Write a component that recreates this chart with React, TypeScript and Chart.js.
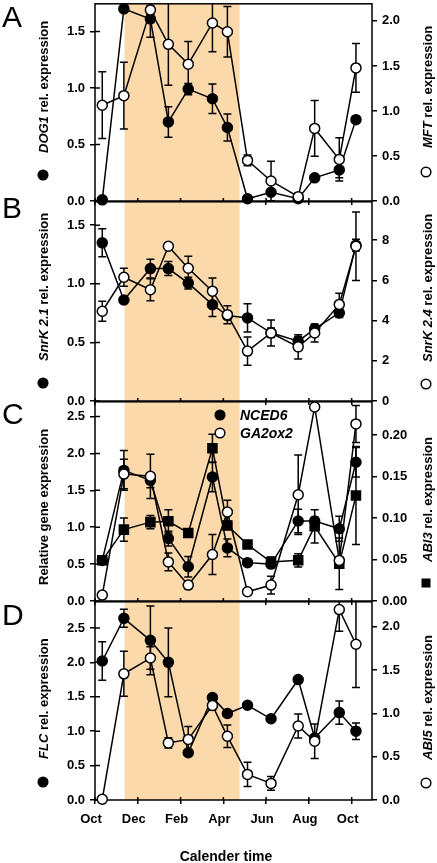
import React, { useEffect, useRef } from 'react';
import { Chart, registerables } from 'chart.js';

Chart.register(...registerables);

// ---------------- DATA ----------------
const monthTickValues = [0, 2, 4, 6, 8, 10, 12];
const monthTickLabels = ['Oct', 'Dec', 'Feb', 'Apr', 'Jun', 'Aug', 'Oct'];
const sampleMonths = [0.34, 1.35, 2.59, 3.43, 4.36, 5.49, 6.19, 7.13, 8.23, 9.5, 10.27, 11.42, 12.2];
const winterStart = 1.38;
const winterEnd = 6.76;

// Panel A
const dog1 = [0.01, 1.7, 1.61, 0.7, 0.99, 0.905, 0.65, 0.02, 0.077, 0.02, 0.205, 0.275, 0.72];
const dog1Err = [0, 0.03, 0.16, 0.135, 0.05, 0.13, 0.12, 0, 0.02, 0, 0.02, 0.07, 0.03];
const mft = [1.064, 1.17, 2.12, 1.74, 1.52, 1.977, 1.88, 0.451, 0.222, 0.048, 0.806, 0.462, 1.478];
const mftErr = [0.37, 0.37, 0.05, 0.455, 0.25, 0.32, 0.28, 0.06, 0.22, 0.02, 0.31, 0.24, 0.27];
const dog1Ticks = [0, 0.5, 1.0, 1.5];
const mftTicks = [0, 0.5, 1.0, 1.5, 2.0];

// Panel B
const snrk21 = [1.35, 0.862, 1.13, 1.13, 1.006, 0.822, 0.729, 0.709, 0.582, 0.511, 0.616, 0.752, 1.33];
const snrk21Err = [0.12, 0.03, 0.08, 0.06, 0.05, 0.1, 0.03, 0.12, 0.04, 0.04, 0.03, 0.04, 0.05];
const snrk24 = [4.46, 6.15, 5.53, 7.69, 6.6, 5.46, 4.29, 2.48, 3.38, 2.69, 3.38, 4.8, 7.69];
const snrk24Err = [0.5, 0.45, 0.55, 0.1, 0.6, 0.65, 0.45, 0.7, 0.65, 0.6, 0.45, 0.55, 1.7];
const snrk21Ticks = [0, 0.5, 1.0, 1.5];
const snrk24Ticks = [0, 2, 4, 6, 8];

// Panel C
const nced6 = [0.55, 1.77, 1.635, 0.847, 0.464, 1.68, 0.72, 0.52, 0.5, 1.085, 1.085, 0.98, 1.88];
const nced6Err = [0.03, 0.27, 0.1, 0.1, 0.14, 0.2, 0.12, 0.03, 0.05, 0.16, 0.05, 0.17, 0.2];
const ga2ox2 = [0.08, 1.72, 1.69, 0.53, 0.216, 0.63, 1.207, 0.126, 0.216, 1.44, 2.63, 0.55, 2.4];
const ga2ox2Err = [0.02, 0.2, 0.3, 0.12, 0.05, 0.27, 0.16, 0.02, 0.12, 0.54, 0.03, 0.05, 0.25];
const abi3 = [0.049, 0.086, 0.095, 0.096, 0.082, 0.184, 0.091, 0.068, 0.047, 0.049, 0.09, 0.045, 0.127];
const abi3Err = [0.003, 0.014, 0.008, 0.014, 0.003, 0.017, 0.005, 0.004, 0.006, 0.008, 0.02, 0.031, 0.059];
const relTicks = [0, 0.5, 1.0, 1.5, 2.0, 2.5];
const abi3Ticks = [0, 0.05, 0.1, 0.15, 0.2];

// Panel D
const flc = [2.02, 2.64, 2.32, 2.0, 0.686, 1.49, 1.257, 1.377, 1.18, 1.75, 0.9, 1.27, 1.0];
const flcErr = [0.28, 0.13, 0.5, 0.5, 0.03, 0.03, 0.03, 0.02, 0.02, 0.02, 0.05, 0.17, 0.12];
const abi5 = [0.008, 1.458, 1.64, 0.66, 0.7, 1.093, 0.736, 0.296, 0.192, 0.855, 0.679, 2.2, 1.8];
const abi5Err = [0.01, 0.26, 0.13, 0.06, 0.15, 0.05, 0.13, 0.14, 0.08, 0.14, 0.2, 0.25, 0.5];
const flcTicks = [0, 0.5, 1.0, 1.5, 2.0, 2.5];
const abi5Ticks = [0, 0.5, 1.0, 1.5, 2.0];

// ---------------- STYLE / LAYOUT ----------------
const FONT = '"Liberation Sans", Arial, Helvetica, sans-serif';
const SHADE = 'rgb(252, 217, 170)';
const W = 437;
const PAD_TOP = 12;
const LEFT_W = 95;
const RIGHT_W = 65;

type MarkerStyle = 'filled' | 'open' | 'square';
type Series = { values: number[]; errors: number[]; axis: 'yL' | 'yR'; style: MarkerStyle };
type AxisSpec = { min: number; max: number; ticks: number[]; decimals: number };
type Title = { parts: [string, boolean][]; marker?: MarkerStyle; markerY?: number; textEnd: number };
type Panel = {
  letter: string;
  letterBaseline: number;
  top: number;
  bottom: number;
  axisHeight: number;
  left: AxisSpec;
  right: AxisSpec;
  series: Series[];
  leftTitle: Title;
  rightTitle: Title;
  xLabels: boolean;
  legend?: { label: string; style: MarkerStyle }[];
};

const panels: Panel[] = [
  {
    letter: 'A', letterBaseline: 27, top: 3, bottom: 201, axisHeight: 14,
    left: { min: 0, max: 1.745, ticks: dog1Ticks, decimals: 1 },
    right: { min: 0, max: 2.19, ticks: mftTicks, decimals: 1 },
    series: [
      { values: mft, errors: mftErr, axis: 'yR', style: 'open' },
      { values: dog1, errors: dog1Err, axis: 'yL', style: 'filled' },
    ],
    leftTitle: { parts: [['DOG1', true], [' rel. expression', false]], marker: 'filled', markerY: 175, textEnd: 153 },
    rightTitle: { parts: [['MFT', true], [' rel. expression', false]], marker: 'open', markerY: 172, textEnd: 148 },
    xLabels: false,
  },
  {
    letter: 'B', letterBaseline: 218, top: 201, bottom: 401, axisHeight: 14,
    left: { min: 0, max: 1.7, ticks: snrk21Ticks, decimals: 1 },
    right: { min: 0, max: 9.9, ticks: snrk24Ticks, decimals: 0 },
    series: [
      { values: snrk24, errors: snrk24Err, axis: 'yR', style: 'open' },
      { values: snrk21, errors: snrk21Err, axis: 'yL', style: 'filled' },
    ],
    leftTitle: { parts: [['SnrK 2.1', true], [' rel. expression', false]], marker: 'filled', markerY: 383, textEnd: 361 },
    rightTitle: { parts: [['SnrK 2.4', true], [' rel. expression', false]], marker: 'open', markerY: 384, textEnd: 362 },
    xLabels: false,
  },
  {
    letter: 'C', letterBaseline: 424, top: 401, bottom: 601, axisHeight: 14,
    left: { min: 0, max: 2.7, ticks: relTicks, decimals: 1 },
    right: { min: 0, max: 0.24, ticks: abi3Ticks, decimals: 2 },
    series: [
      { values: ga2ox2, errors: ga2ox2Err, axis: 'yL', style: 'open' },
      { values: abi3, errors: abi3Err, axis: 'yR', style: 'square' },
      { values: nced6, errors: nced6Err, axis: 'yL', style: 'filled' },
    ],
    leftTitle: { parts: [['Relative gene expression', false]], textEnd: 585 },
    rightTitle: { parts: [['ABI3', true], [' rel. expression', false]], marker: 'square', markerY: 583, textEnd: 562 },
    xLabels: false,
    legend: [
      { label: 'NCED6', style: 'filled' },
      { label: 'GA2ox2', style: 'open' },
    ],
  },
  {
    letter: 'D', letterBaseline: 625, top: 601, bottom: 800, axisHeight: 63,
    left: { min: 0, max: 2.88, ticks: flcTicks, decimals: 1 },
    right: { min: 0, max: 2.29, ticks: abi5Ticks, decimals: 1 },
    series: [
      { values: abi5, errors: abi5Err, axis: 'yR', style: 'open' },
      { values: flc, errors: flcErr, axis: 'yL', style: 'filled' },
    ],
    leftTitle: { parts: [['FLC', true], [' rel. expression', false]], marker: 'filled', markerY: 782, textEnd: 759 },
    rightTitle: { parts: [['ABI5', true], [' rel. expression', false]], marker: 'open', markerY: 783, textEnd: 760 },
    xLabels: true,
  },
];

// ---------------- DRAW HELPERS ----------------
function drawMarker(ctx: CanvasRenderingContext2D, x: number, y: number, style: MarkerStyle) {
  ctx.save();
  ctx.lineWidth = 1.5;
  ctx.strokeStyle = '#000';
  if (style === 'square') {
    ctx.fillStyle = '#000';
    ctx.fillRect(x - 4.5, y - 4.5, 9, 9);
  } else {
    ctx.beginPath();
    ctx.arc(x, y, 4.8, 0, Math.PI * 2);
    ctx.fillStyle = style === 'open' ? '#fff' : '#000';
    ctx.fill();
    ctx.stroke();
  }
  ctx.restore();
}

function drawRotatedTitle(ctx: CanvasRenderingContext2D, x: number, t: Title, markerX: number) {
  ctx.save();
  ctx.translate(x, t.textEnd);
  ctx.rotate(-Math.PI / 2);
  ctx.textAlign = 'left';
  ctx.textBaseline = 'middle';
  ctx.fillStyle = '#000';
  let cx = 0;
  for (const [text, italic] of t.parts) {
    ctx.font = `${italic ? 'italic ' : ''}bold 13px ${FONT}`;
    ctx.fillText(text, cx, 0);
    cx += ctx.measureText(text).width;
  }
  ctx.restore();
  if (t.marker && t.markerY !== undefined) drawMarker(ctx, markerX, t.markerY, t.marker);
}

function makePlugin(p: Panel) {
  return {
    id: 'panelDecor' + p.letter,
    beforeDatasetsDraw(chart: any) {
      const { ctx, chartArea: a, scales } = chart;
      const xs = scales.x;
      ctx.save();
      ctx.beginPath();
      ctx.rect(a.left, a.top, a.right - a.left, a.bottom - a.top);
      ctx.clip();
      const x0 = xs.getPixelForValue(winterStart);
      const x1 = xs.getPixelForValue(winterEnd);
      ctx.fillStyle = SHADE;
      ctx.fillRect(x0, a.top, x1 - x0, a.bottom - a.top);
      // error bars
      ctx.strokeStyle = '#000';
      ctx.lineWidth = 1.5;
      for (const s of p.series) {
        const ys = scales[s.axis];
        s.values.forEach((v, i) => {
          const e = s.errors[i];
          if (!e) return;
          const px = xs.getPixelForValue(sampleMonths[i]);
          const yt = ys.getPixelForValue(v + e);
          const yb = ys.getPixelForValue(v - e);
          ctx.beginPath();
          ctx.moveTo(px, yt);
          ctx.lineTo(px, yb);
          ctx.moveTo(px - 4, yt);
          ctx.lineTo(px + 4, yt);
          ctx.moveTo(px - 4, yb);
          ctx.lineTo(px + 4, yb);
          ctx.stroke();
        });
      }
      ctx.restore();
      // frame + inward ticks
      ctx.save();
      ctx.strokeStyle = '#000';
      ctx.lineWidth = 1.5;
      ctx.strokeRect(a.left, a.top, a.right - a.left, a.bottom - a.top);
      ctx.beginPath();
      for (const t of scales.yL.ticks) {
        const y = scales.yL.getPixelForValue(t.value);
        ctx.moveTo(a.left, y);
        ctx.lineTo(a.left + 5, y);
      }
      for (const t of xs.ticks) {
        const x = xs.getPixelForValue(t.value);
        ctx.moveTo(x, a.bottom);
        ctx.lineTo(x, a.bottom - 3);
      }
      ctx.stroke();
      ctx.restore();
    },
    afterDraw(chart: any) {
      const { ctx } = chart;
      const off = p.top - PAD_TOP; // canvas top in page coords
      ctx.save();
      ctx.translate(0, -off);
      // panel letter
      ctx.fillStyle = '#000';
      ctx.font = `30px ${FONT}`;
      ctx.textAlign = 'left';
      ctx.textBaseline = 'alphabetic';
      ctx.fillText(p.letter, 2, p.letterBaseline);
      // titles
      drawRotatedTitle(ctx, 44, p.leftTitle, 43);
      drawRotatedTitle(ctx, 428, p.rightTitle, 426);
      // legend
      if (p.legend) {
        p.legend.forEach((item, i) => {
          const y = 415 + i * 18;
          drawMarker(ctx, 220, y, item.style);
          ctx.fillStyle = '#000';
          ctx.font = `italic bold 14px ${FONT}`;
          ctx.textAlign = 'left';
          ctx.textBaseline = 'middle';
          ctx.fillText(item.label, 240, y + 1);
        });
      }
      if (p.xLabels) {
        ctx.fillStyle = '#000';
        ctx.font = `bold 14px ${FONT}`;
        ctx.textAlign = 'center';
        ctx.textBaseline = 'middle';
        ctx.fillText('Calender time', 226, 857);
      }
      ctx.restore();
    },
  };
}

function buildConfig(p: Panel): any {
  const datasets = p.series.map((s) => ({
    type: 'line',
    data: s.values.map((v, i) => ({ x: sampleMonths[i], y: v })),
    yAxisID: s.axis,
    borderColor: '#000',
    borderWidth: 1.5,
    tension: 0,
    fill: false,
    pointStyle: s.style === 'square' ? 'rect' : 'circle',
    pointRadius: s.style === 'square' ? 6.4 : 5,
    pointBackgroundColor: s.style === 'open' ? '#fff' : '#000',
    pointBorderColor: '#000',
    pointBorderWidth: 1.5,
    clip: 10,
  }));
  const tickFont = { family: FONT, size: 13, weight: 'bold' as const };
  const yAxis = (ax: AxisSpec, position: 'left' | 'right') => ({
    type: 'linear',
    position,
    min: ax.min,
    max: ax.max,
    bounds: 'data',
    afterBuildTicks: (scale: any) => {
      scale.ticks = ax.ticks.map((v) => ({ value: v }));
    },
    afterFit: (scale: any) => {
      scale.width = position === 'left' ? LEFT_W : RIGHT_W;
    },
    grid: { display: true, drawOnChartArea: false, drawTicks: true, tickLength: 5, color: '#000', lineWidth: 1.5 },
    border: { display: false },
    ticks: {
      color: '#000',
      padding: 5,
      font: tickFont,
      callback: (v: any) => Number(v).toFixed(ax.decimals),
    },
  });
  return {
    type: 'line',
    data: { datasets },
    options: {
      responsive: false,
      animation: false,
      events: [],
      layout: { padding: { top: PAD_TOP, left: 0, right: 0, bottom: 0 } },
      plugins: { legend: { display: false }, tooltip: { enabled: false } },
      scales: {
        x: {
          type: 'linear',
          min: 0,
          max: 12.95,
          bounds: 'data',
          afterBuildTicks: (scale: any) => {
            scale.ticks = monthTickValues.map((v) => ({ value: v }));
          },
          afterFit: (scale: any) => {
            scale.height = p.axisHeight;
          },
          grid: { display: true, drawOnChartArea: false, drawTicks: true, tickLength: 4, color: '#000', lineWidth: 1.5 },
          border: { display: false },
          ticks: {
            color: '#000',
            padding: 8,
            labelOffset: -4,
            maxRotation: 0,
            autoSkip: false,
            font: tickFont,
            callback: (_v: any, i: number) => (p.xLabels ? monthTickLabels[i] : ''),
          },
        },
        yL: yAxis(p.left, 'left'),
        yR: yAxis(p.right, 'right'),
      },
    },
    plugins: [makePlugin(p)],
  };
}

function PanelChart({ panel }: { panel: Panel }) {
  const ref = useRef<HTMLCanvasElement>(null);
  const top = panel.top - PAD_TOP;
  const height = panel.bottom - panel.top + PAD_TOP + panel.axisHeight;
  useEffect(() => {
    if (!ref.current) return;
    const chart = new Chart(ref.current, buildConfig(panel));
    return () => chart.destroy();
  }, [panel]);
  return (
    <canvas
      ref={ref}
      width={W}
      height={height}
      style={{ position: 'absolute', left: 0, top, width: W, height }}
    />
  );
}

export default function App() {
  return (
    <div style={{ position: 'absolute', left: 0, top: 0, width: W, height: 863, background: '#fff', overflow: 'hidden' }}>
      {panels.map((p) => (
        <PanelChart key={p.letter} panel={p} />
      ))}
    </div>
  );
}
